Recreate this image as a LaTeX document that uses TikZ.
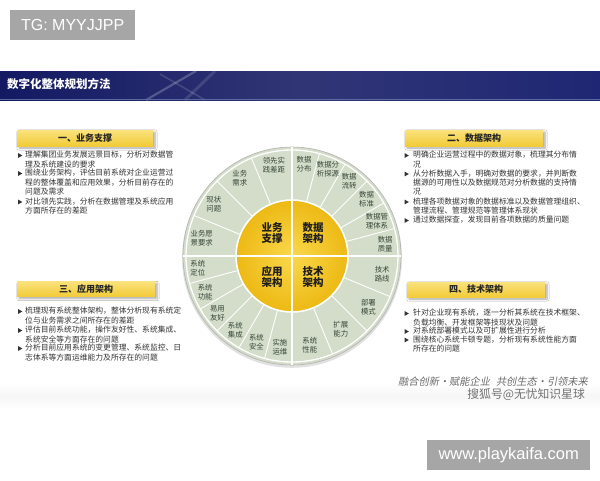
\documentclass[tikz,border=0pt]{standalone}
\usepackage{fontspec}
\setmainfont{Noto Sans CJK SC}
\newfontfamily\cjkslant[FakeSlant=0.2]{Noto Sans CJK SC}
\newfontfamily\lsans{Liberation Sans}
\usetikzlibrary{shapes.geometric,shadows.blur}
\definecolor{navy}{HTML}{141A62}
\definecolor{navyb}{HTML}{1F2774}
\definecolor{navyline}{HTML}{5A6AA0}
\definecolor{wmgray}{HTML}{A6A6A6}
\definecolor{ringc}{HTML}{D3DDC9}
\definecolor{segtxt}{HTML}{384638}
\definecolor{txt}{HTML}{333333}
\definecolor{ylwtop}{HTML}{FAE27C}
\definecolor{ylwbot}{HTML}{F2CB38}
\definecolor{coreIn}{HTML}{F9D84C}
\definecolor{coreOut}{HTML}{EDB914}
\begin{document}
\begin{tikzpicture}[x=1pt,y=-1pt,
  wm/.style={fill=wmgray, text=white, inner sep=0, font=\lsans\fontsize{16}{18}\selectfont},
  hdr/.style={top color=ylwtop, bottom color=ylwbot, inner sep=0, minimum height=16,
     font=\bfseries\fontsize{9}{10}\selectfont, text=black!85,
     blur shadow={shadow xshift=2pt, shadow yshift=-2pt, shadow blur steps=6, shadow opacity=35}},
  item/.style={anchor=north west, inner sep=0, align=left, text=txt, font=\fontsize{7.8}{9.3}\selectfont},
  bul/.style={isosceles triangle, fill=black!80, inner sep=0, minimum height=4.2, minimum width=4.6, isosceles triangle apex angle=60},
  seg/.style={align=center, inner sep=0, text=segtxt, font=\fontsize{7.4}{9}\selectfont},
  core/.style={align=center, inner sep=0, text=black!88, font=\bfseries\fontsize{10.5}{11.5}\selectfont},
  segline/.style={white, line width=0.9},
  crossline/.style={white, line width=2}]
\useasboundingbox (0,0) rectangle (600,480);
\fill[white] (0,0) rectangle (600,480);

% top watermark
\node[wm, minimum width=125, minimum height=30, anchor=north west] (tg) at (10,10) {TG: MYYJJPP};

% title bar
\shade[left color=navy, right color=navyb, middle color=navy!88!white] (0,71) rectangle (600,100);
\draw[white, opacity=0.22, line width=2.2] (146,100) -- (196,71);
\draw[white, opacity=0.15, line width=1.5] (160,74) -- (205,100);
\draw[white, opacity=0.12, line width=3] (185,100) -- (215,71);
\draw[navyline, line width=1] (0,99.5) -- (600,99.5);
\node[anchor=west, inner sep=0, text=white, font=\bfseries\fontsize{11.5}{12}\selectfont] (title) at (7,84.5) {数字化整体规划方法};

% headers
\node[hdr, minimum width=136] (h1) at (85,138) {一、业务支撑};
\node[hdr, minimum width=138] (h2) at (474,138) {二、数据架构};
\node[hdr, minimum width=138, minimum height=15] (h3) at (86,289) {三、应用架构};
\node[hdr, minimum width=138, minimum height=15] (h4) at (476,289.5) {四、技术架构};

% left 1
\node[bul] (b11) at (19.5,155.5) {};
\node[item] (i11) at (25,151) {理解集团业务发展远景目标，分析对数据管\\理及系统建设的要求};
\node[bul] (b12) at (19.5,173.5) {};
\node[item] (i12) at (25,169) {围绕业务架构，评估目前系统对企业运营过\\程的整体覆盖和应用效果，分析目前存在的\\问题及需求};
\node[bul] (b13) at (19.5,202) {};
\node[item] (i13) at (25,197.5) {对比领先实践，分析在数据管理及系统应用\\方面所存在的差距};

% left 3
\node[bul] (b31) at (19.5,311.5) {};
\node[item] (i31) at (25,307) {梳理现有系统整体架构，整体分析现有系统定\\位与业务需求之间所存在的差距};
\node[bul] (b32) at (19.5,330.5) {};
\node[item] (i32) at (25,326) {评估目前系统功能，操作友好性、系统集成、\\系统安全等方面存在的问题};
\node[bul] (b33) at (19.5,348.5) {};
\node[item] (i33) at (25,344) {分析目前应用系统的变更管理、系统监控、日\\志体系等方面运维能力及所存在的问题};

% right 2
\node[bul] (b21) at (406,155.5) {};
\node[item] (i21) at (413,151) {明确企业运营过程中的数据对象，梳理其分布情\\况};
\node[bul] (b22) at (406,174) {};
\node[item] (i22) at (413,169.5) {从分析数据入手，明确对数据的要求，并判断数\\据源的可用性以及数据规范对分析数据的支持情\\况};
\node[bul] (b23) at (406,202) {};
\node[item] (i23) at (413,197.5) {梳理各项数据对象的数据标准以及数据管理组织、\\管理流程、管理规范等管理体系现状};
\node[bul] (b24) at (406,220.5) {};
\node[item] (i24) at (413,216) {通过数据探查，发现目前各项数据的质量问题};

% right 4
\node[bul] (b41) at (406,313.5) {};
\node[item] (i41) at (413,309) {针对企业现有系统，逐一分析其系统在技术框架、\\负载均衡、开发框架等技现状及问题};
\node[bul] (b42) at (406,331.5) {};
\node[item] (i42) at (413,327) {对系统部署模式以及可扩展性进行分析};
\node[bul] (b43) at (406,340) {};
\node[item] (i43) at (413,335.5) {围绕核心系统卡顿专题，分析现有系统性能方面\\所存在的问题};

% wheel
\begin{scope}[shift={(292,256)}, yscale=-1]
  \fill[black!12] (0,-1.8) circle (110);
  \fill[ringc] (0,0) circle (109);
  \draw[black!30, line width=0.6] (0,0) circle (109);
  \draw[white, line width=1.3] (0,0) circle (106);
  \foreach \a in {112.5,135,157.5, 15,30,45,60,75, 195,210,225,240,255, 292.5,315,337.5}
    \draw[segline] (\a:56) -- (\a:106);
  \shade[inner color=coreIn, outer color=coreOut] (0,0) circle (56);
  \draw[white, line width=1.6] (0,0) circle (56);
  \draw[crossline] (-109,0) -- (109,0);
  \draw[crossline] (0,-109) -- (0,109);
  % core
  \node[core] (c1) at (-20,23) {业务\\支撑};
  \node[core] (c2) at (21,23) {数据\\架构};
  \node[core] (c3) at (-20,-21) {应用\\架构};
  \node[core] (c4) at (21,-21) {技术\\架构};
  % top-left
  \node[seg] (s1) at (101.25:93) {领先实\\践差距};
  \node[seg] (s2) at (123.75:94) {业务\\需求};
  \node[seg] (s3) at (146.25:94) {现状\\问题};
  \node[seg] (s4) at (168.75:92) {业务愿\\景要求};
  % top-right
  \node[seg] (s5) at (82.5:93) {数据\\分布};
  \node[seg] (s6) at (67.5:94) {数据分\\析探源};
  \node[seg] (s7) at (52.5:94) {数据\\流转};
  \node[seg] (s8) at (37.5:94) {数据\\标准};
  \node[seg] (s9) at (22.5:92) {数据管\\理体系};
  \node[seg] (s10) at (7.5:94) {数据\\质量};
  % bottom-left
  \node[seg] (s11) at (187.5:95) {系统\\定位};
  \node[seg] (s12) at (202.5:94) {系统\\功能};
  \node[seg] (s13) at (217.5:94) {易用\\友好};
  \node[seg] (s14) at (232.5:93) {系统\\集成};
  \node[seg] (s15) at (247.5:93) {系统\\安全};
  \node[seg] (s16) at (262.5:92) {实施\\运维};
  % bottom-right
  \node[seg] (s17) at (348.75:92) {技术\\路线};
  \node[seg] (s18) at (326.25:92) {部署\\模式};
  \node[seg] (s19) at (303.75:88) {扩展\\能力};
  \node[seg] (s20) at (281.25:91) {系统\\性能};
\end{scope}

% bottom band and slogan
\shade[top color=white, bottom color=gray!7] (0,383) rectangle (600,396);
\shade[top color=gray!7, bottom color=white] (0,396) rectangle (600,409);
\node[anchor=east, inner sep=0, text=black!58, font=\cjkslant\fontsize{10.2}{12}\selectfont] (slogan) at (588,382) {融合创新·赋能企业\hspace{6pt}共创生态·引领未来};
\node[anchor=east, inner sep=0, text=black!55, font=\fontsize{11.8}{13}\selectfont] (sohu) at (585,394.5) {搜狐号@无忧知识星球};

% bottom watermark
\node[wm, minimum width=163, minimum height=30, anchor=north west, font=\lsans\fontsize{16.5}{18}\selectfont] (site) at (427,440) {www.playkaifa.com};
\end{tikzpicture}
\end{document}
